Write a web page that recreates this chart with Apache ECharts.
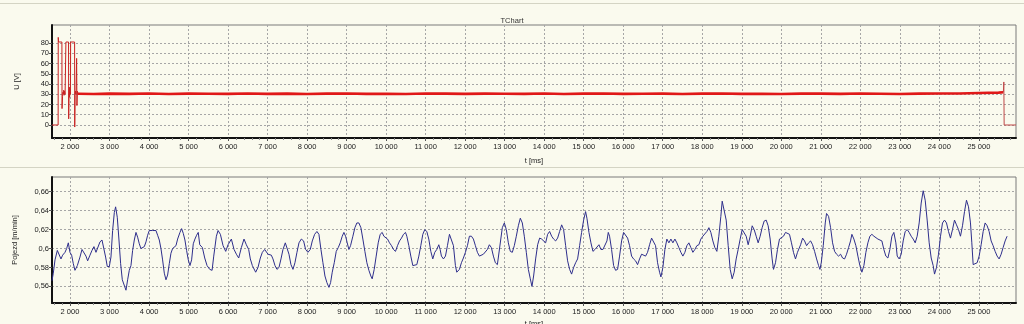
<!DOCTYPE html>
<html><head><meta charset="utf-8">
<script src="https://cdn.jsdelivr.net/npm/echarts@6/dist/echarts.min.js"></script>
<style>html,body{margin:0;padding:0;background:#fafaee;}#c{width:1024px;height:324px;}</style>
</head><body><div id="c"></div>
<script>
// ---- tick labels ----
const xTicks = [2000,3000,4000,5000,6000,7000,8000,9000,10000,11000,12000,13000,14000,15000,16000,17000,18000,19000,20000,21000,22000,23000,24000,25000];
const uTicks = [0,10,20,30,40,50,60,70,80];
const pTicks = [0.56,0.58,0.6,0.62,0.64,0.66];

// ---- U [V] : start-up pulses ----
const uStartT = [1545,1700,1703,1712,1796,1799,1812,1822,1832,1842,1852,1862,1876,1890,1897,1964,1967,1975,1983,1990,2000,2012,2016,2117,2120,2130,2140,2152,2168,2176,2188,2200];
const uStartV = [0,0,85.5,81,81,16,28,32,30,34,29,33,30,31,81,81,6,29,37,27,32,30,81,81,-2,29,33,30,65,19,33,30.5];
// ---- U [V] : steady running ----
const uRunT = [2200,2600,3000,3500,4000,4500,5000,5500,6000,6500,7000,7500,8000,8500,9000,9500,10000,10500,11000,11500,12000,12500,13000,13500,14000,14500,15000,15500,16000,16500,17000,17500,18000,18500,19000,19500,20000,20500,21000,21500,22000,22500,23000,23500,24000,24500,25000,25500,25620];
const uRunV = [30.5,30.3,30.6,30.4,30.7,30.3,30.6,30.5,30.4,30.7,30.4,30.6,30.3,30.6,30.7,30.4,30.5,30.3,30.7,30.6,30.4,30.6,30.5,30.4,30.7,30.3,30.6,30.7,30.4,30.5,30.6,30.3,30.6,30.7,30.4,30.5,30.3,30.6,30.6,30.4,30.7,30.5,30.3,30.6,30.7,30.8,31.2,31.6,32];
// ---- U [V] : stop ----
const uStopT = [25620,25632,25640,25940];
const uStopV = [32,42,0,0];

// ---- Pojezd [m/min] ----
const pojezdT = [
1545,1578,1621,1680,1730,1772,1814,1874,1916,1958,
2000,2042,2084,2126,2186,2253,2304,2354,2405,2447,
2506,2557,2607,2658,2708,2759,2810,2860,2902,2944,
2995,3037,3079,3122,3155,3197,3240,3282,3324,3366,
3417,3459,3501,3543,3585,3628,3670,3712,3754,3796,
3838,3881,3923,3965,4007,4049,4091,4134,4176,4218,
4260,4302,4344,4387,4429,4471,4513,4555,4597,4640,
4682,4724,4783,4825,4867,4909,4951,4994,5036,5078,
5120,5162,5204,5246,
5284,5351,5410,5469,5537,5596,5638,5705,5747,5806,
5874,5941,6000,6084,6152,6211,6270,6337,6404,6463,
6522,6564,6615,6657,6699,6758,6817,6868,6927,6969,
7011,7053,7095,7137,7188,7238,7289,7340,7390,7449,
7491,7542,7592,7643,7693,7744,7795,7854,7912,7963,
8022,8081,8132,8191,8249,8300,8351,8401,8452,8502,
8553,8595,8637,8688,8738,8789,8839,8890,8932,8974,
9016,9058,9100,9159,9210,9260,9311,9362,9412,9463,
9513,9564,9614,9648,9699,9749,9800,9850,9901,9943,
9985,10036,10086,10137,10187,10238,10288,10339,10389,10440,
10491,10524,10575,10625,10676,10726,10777,10828,10878,10929,
10979,11030,11080,11131,11181,11232,11282,11333,11367,11400,
11451,11502,11552,11603,11653,11704,11754,11788,11822,11855,
11906,11956,12007,12058,12108,12159,12209,12260,12310,12361,
12411,12462,12512,12563,12613,12664,12715,12765,12816,
12941,12992,13042,13093,13143,13194,13244,13295,13346,13396,
13447,13497,13548,13599,13649,13691,13733,13784,13835,13885,
13936,13986,14037,14087,14138,14189,14239,14290,14340,14391,
14442,14492,14543,14593,14644,14694,14745,14796,14846,14897,
14947,14998,15048,15082,15133,15183,15234,15285,15335,15386,
15436,15487,15537,15588,15622,15655,15706,15757,15807,15858,
15908,15959,16010,16060,16111,16161,16212,16262,16313,16364,
16414,16465,16515,16566,16616,16667,16718,16768,16819,16869,
16920,16954,17004,17055,17105,17156,17207,17257,17308,17358,
17409,17459,17510,17561,17611,17662,17712,17763,17813,17864,
17915,17965,18016,18066,18117,18168,18218,18269,18319,18370,
18420,18471,18505,18555,18606,18657,18707,18758,18808,18859,
18909,18960,19011,19061,19112,19162,19213,19264,19314,19365,
19415,19466,19516,19567,19618,19668,19719,19769,19803,19854,
19904,19955,20005,20056,20107,20157,20208,20258,20309,20360,
20410,
20438,20489,20540,20590,20641,20691,20742,20792,20843,20894,
20944,20978,21012,21062,21113,21146,21197,21248,21298,21349,
21399,21450,21501,21551,21602,21652,21703,21753,21787,21838,
21888,21939,21989,22040,22091,22141,22192,22242,22293,22344,
22394,22445,22495,22546,22596,22647,22698,22748,22799,22849,
22900,22934,22984,23035,23085,23136,23187,23237,23288,23338,
23389,23439,23490,23541,23591,23642,23692,23743,23794,23844,
23878,23928,23979,24030,24080,24131,24181,24232,24282,24333,
24384,24434,24485,24535,24586,24637,24687,24738,24788,24822,
24856,24906,24957,25007,25058,25109,25159,25210,25260,25311,
25361,25412,25463,25513,25564,25614,25665,25715];
const pojezdV = [
0.566,0.574,0.588,0.598,0.596,0.589,0.593,0.596,0.600,0.606,
0.596,0.593,0.584,0.577,0.582,0.591,0.599,0.598,0.592,0.587,
0.593,0.598,0.602,0.596,0.598,0.607,0.609,0.607,0.591,0.581,
0.581,0.591,0.619,0.638,0.644,0.633,0.609,0.584,0.567,0.565,
0.556,0.567,0.577,0.582,0.598,0.609,0.617,0.612,0.605,0.600,
0.599,0.602,0.607,0.614,0.619,0.617,0.619,0.617,0.619,0.614,
0.609,0.600,0.588,0.574,0.567,0.572,0.584,0.595,0.600,0.600,
0.603,0.610,0.617,0.621,0.616,0.609,0.598,0.588,0.582,0.588,
0.605,0.610,0.614,0.617,
0.604,0.601,0.590,0.582,0.578,0.577,0.592,0.613,0.619,0.615,
0.603,0.597,0.604,0.610,0.599,0.594,0.590,0.601,0.610,0.604,
0.599,0.589,0.582,0.583,0.575,0.580,0.590,0.596,0.599,0.597,
0.594,0.592,0.593,0.589,0.582,0.578,0.580,0.589,0.599,0.606,
0.604,0.594,0.583,0.578,0.585,0.596,0.606,0.610,0.608,0.599,
0.596,0.599,0.608,0.615,0.618,0.615,0.599,0.585,0.571,0.564,
0.559,0.564,0.575,0.585,0.597,0.601,0.606,0.613,0.617,0.613,
0.606,0.599,0.603,0.613,0.622,0.627,0.627,0.622,0.610,0.597,
0.585,0.577,0.571,0.568,0.578,0.592,0.606,0.615,0.617,0.613,
0.611,0.610,0.606,0.603,0.599,0.597,0.603,0.608,0.611,0.615,
0.617,0.613,0.603,0.592,0.582,0.580,0.583,0.592,0.603,0.615,
0.620,0.618,0.610,0.597,0.589,0.596,0.599,0.604,0.599,0.592,
0.589,0.592,0.603,0.615,0.615,0.603,0.582,0.575,0.573,0.578,
0.585,0.590,0.596,0.603,0.613,0.613,0.610,0.603,0.596,0.592,
0.590,0.594,0.596,0.599,0.604,0.601,0.592,0.585,0.583,
0.622,0.627,0.620,0.606,0.597,0.596,0.603,0.613,0.624,0.632,
0.627,0.613,0.596,0.578,0.568,0.560,0.571,0.589,0.604,0.611,
0.610,0.611,0.606,0.615,0.618,0.613,0.610,0.608,0.611,0.618,
0.625,0.620,0.603,0.587,0.578,0.573,0.580,0.585,0.589,0.603,
0.617,0.630,0.639,0.632,0.617,0.606,0.597,0.599,0.597,0.604,
0.599,0.599,0.601,0.608,0.617,0.613,0.599,0.582,0.577,0.578,
0.592,0.608,0.617,0.618,0.611,0.603,0.592,0.589,0.587,0.583,
0.589,0.594,0.592,0.592,0.596,0.604,0.611,0.613,0.603,0.585,
0.575,0.570,0.580,0.599,0.610,0.606,0.610,0.606,0.610,0.606,
0.601,0.596,0.592,0.596,0.603,0.606,0.601,0.596,0.599,0.603,
0.604,0.610,0.613,0.613,0.618,0.622,0.617,0.608,0.601,0.597,
0.613,0.634,0.650,0.648,0.630,0.603,0.578,0.568,0.575,0.589,
0.599,0.610,0.620,0.620,0.613,0.604,0.613,0.624,0.620,0.613,
0.606,0.613,0.622,0.629,0.630,0.624,0.610,0.589,0.578,0.585,
0.599,0.610,0.611,0.613,0.617,0.618,0.615,0.606,0.596,0.589,
0.596,
0.596,0.604,0.611,0.608,0.603,0.606,0.608,0.604,0.597,0.589,
0.582,0.578,0.585,0.603,0.627,0.637,0.634,0.622,0.606,0.597,
0.594,0.592,0.594,0.590,0.589,0.594,0.601,0.608,0.615,0.610,
0.603,0.592,0.582,0.575,0.582,0.596,0.606,0.613,0.615,0.613,
0.615,0.610,0.611,0.608,0.599,0.592,0.590,0.599,0.613,0.617,
0.606,0.592,0.589,0.594,0.608,0.618,0.620,0.617,0.613,0.610,
0.606,0.613,0.627,0.648,0.661,0.651,0.630,0.606,0.590,0.582,
0.573,0.580,0.594,0.613,0.627,0.630,0.627,0.618,0.611,0.620,
0.630,0.625,0.620,0.613,0.624,0.639,0.651,0.644,0.627,0.606,
0.583,0.583,0.585,0.592,0.604,0.618,0.627,0.624,0.618,0.608,
0.603,0.597,0.592,0.589,0.594,0.601,0.608,0.613];

const FONT = 'Liberation Sans, Arial, sans-serif';
const TXT = '#222';
const zip = (a, b) => a.map((t, i) => [t, b[i]]);
const thou = v => String(Math.round(v)).replace(/\B(?=(\d{3})+(?!\d))/g, ' ');

function xAxisCfg(gi, gap) {
  return {
    type: 'value', gridIndex: gi, min: 1545, max: 25940, splitNumber: 24,
    axisLine: { show: true, onZero: false, lineStyle: { color: '#111', width: 2 } },
    axisTick: { show: true, length: 3, customValues: xTicks, lineStyle: { color: '#555' } },
    minorTick: { show: true, splitNumber: 5, length: 2, lineStyle: { color: '#888' } },
    minorSplitLine: { show: false },
    axisLabel: { customValues: xTicks, formatter: thou, fontSize: 7.5, color: TXT, margin: 5, fontFamily: FONT },
    splitLine: { show: true, lineStyle: { color: '#a6a6a6', type: [2, 2], width: 1 } },
    name: 't [ms]', nameLocation: 'middle', nameGap: gap,
    nameTextStyle: { fontSize: 7.5, color: TXT, fontFamily: FONT }
  };
}
function yAxisCfg(gi, min, max, ticks, name, fmt, gap) {
  return {
    type: 'value', gridIndex: gi, min: min, max: max, splitNumber: 6,
    axisLine: { show: true, onZero: false, lineStyle: { color: '#111', width: 2 } },
    axisTick: { show: true, length: 3, customValues: ticks, lineStyle: { color: '#555' } },
    axisLabel: { customValues: ticks, formatter: fmt, fontSize: 7.5, color: TXT, margin: 3, fontFamily: FONT },
    splitLine: { show: true, lineStyle: { color: '#a6a6a6', type: [2, 2], width: 1 } },
    name: name, nameLocation: 'middle', nameGap: gap, nameRotate: 90,
    nameTextStyle: { fontSize: 7.5, color: TXT, fontFamily: FONT }
  };
}

const chart = echarts.init(document.getElementById('c'), null, { renderer: 'canvas' });
chart.setOption({
  animation: false,
  backgroundColor: '#fafaee',
  title: { text: 'TChart', left: 'center', top: 12, textStyle: { fontSize: 7.5, fontWeight: 'normal', color: '#333', fontFamily: FONT } },
  graphic: [
    { type: 'line', shape: { x1: 0, y1: 3.5, x2: 1024, y2: 3.5 }, style: { stroke: '#d4d4c4', lineWidth: 1 }, silent: true },
    { type: 'line', shape: { x1: 0, y1: 167.5, x2: 1024, y2: 167.5 }, style: { stroke: '#d4d4c4', lineWidth: 1 }, silent: true }
  ],
  grid: [
    { left: 52, right: 8, top: 25, height: 113, show: true, borderColor: '#7a7a7a', borderWidth: 1, backgroundColor: '#fafaee', outerBoundsMode: 'none' },
    { left: 52, right: 8, top: 177, height: 126, show: true, borderColor: '#7a7a7a', borderWidth: 1, backgroundColor: '#fafaee', outerBoundsMode: 'none' }
  ],
  xAxis: [xAxisCfg(0, 19), xAxisCfg(1, 17)],
  yAxis: [
    yAxisCfg(0, -12.7, 97.6, uTicks, 'U [V]', v => String(Math.round(v)), 31),
    yAxisCfg(1, 0.5425, 0.6755, pTicks, 'Pojezd [m/min]', v => String(+v.toFixed(2)).replace('.', ','), 33)
  ],
  series: [
    { type: 'line', xAxisIndex: 0, yAxisIndex: 0, data: zip(uStartT, uStartV), showSymbol: false, symbol: 'none', lineStyle: { color: '#c82222', width: 1 } },
    { type: 'line', xAxisIndex: 0, yAxisIndex: 0, data: zip(uRunT, uRunV), showSymbol: false, symbol: 'none', lineStyle: { color: '#e01818', width: 2.6 } },
    { type: 'line', xAxisIndex: 0, yAxisIndex: 0, data: zip(uStopT, uStopV), showSymbol: false, symbol: 'none', lineStyle: { color: '#c04848', width: 1 } },
    { type: 'line', xAxisIndex: 1, yAxisIndex: 1, data: zip(pojezdT, pojezdV), showSymbol: false, symbol: 'none', lineStyle: { color: '#2e2e8c', width: 1 } }
  ]
});
</script>
</body></html>
